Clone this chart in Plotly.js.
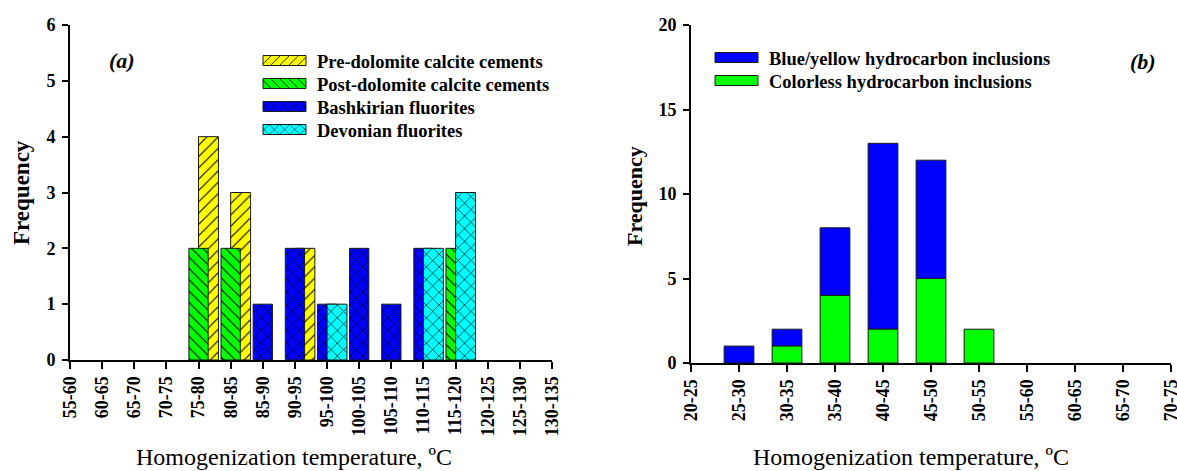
<!DOCTYPE html>
<html>
<head>
<meta charset="utf-8">
<script src="https://cdn.plot.ly/plotly-3.0.1.min.js"></script>
<style>
  html, body { margin: 0; padding: 0; background: #fff; }
  #chart { width: 1177px; height: 471px; }
</style>
</head>
<body>
<div id="chart"></div>
<script>
// ---------- Data ----------
const categoriesA = ['55-60','60-65','65-70','70-75','75-80','80-85','85-90','90-95','95-100','100-105','105-110','110-115','115-120','120-125','125-130','130-135'];
const preDolomiteCalcite  = [0,0,0,0,4,3,0,2,0,0,0,0,0,0,0,0];
const postDolomiteCalcite = [0,0,0,0,2,2,0,0,0,0,0,0,2,0,0,0];
const bashkirianFluorites = [0,0,0,0,0,0,1,2,1,2,1,2,0,0,0,0];
const devonianFluorites   = [0,0,0,0,0,0,0,0,1,0,0,2,3,0,0,0];

const categoriesB = ['20-25','25-30','30-35','35-40','40-45','45-50','50-55','55-60','60-65','65-70','70-75'];
const blueYellowHC = [0,1,1,4,11,7,0,0,0,0,0];
const colorlessHC  = [0,0,1,4,2,5,2,0,0,0,0];

const seriesNamesA = ['Pre-dolomite calcite cements','Post-dolomite calcite cements','Bashkirian fluorites','Devonian fluorites'];
const seriesNamesB = ['Blue/yellow hydrocarbon inclusions','Colorless hydrocarbon inclusions'];

// ---------- Layout helpers ----------
const W = 1177, H = 471;
const px = v => v / W;
const py = v => (H - v) / H;
const serif = 'Liberation Serif, Times New Roman, serif';
const nz = arr => arr.map(v => (v === 0 ? null : v));
const bold = arr => arr.map(s => '<b>' + s + '</b>');
const edge = {color: '#1a1a1a', width: 1};

function patt(shape, bg, size, sol) {
  return {shape: shape, bgcolor: bg, fgcolor: '#000', fgopacity: 1, size: size, solidity: sol, fillmode: 'replace'};
}

const traces = [
  {type: 'bar', name: seriesNamesA[0], x: categoriesA, y: nz(preDolomiteCalcite), xaxis: 'x', yaxis: 'y',
   width: 0.62, offset: 0, marker: {color: '#ffff00', line: edge, pattern: patt('/', '#ffff00', 8, 0.14)}, legend: 'legend'},
  {type: 'bar', name: seriesNamesA[1], x: categoriesA, y: nz(postDolomiteCalcite), xaxis: 'x', yaxis: 'y',
   width: 0.6, offset: -0.3, marker: {color: '#00ff00', line: edge, pattern: patt('\\', '#00ff00', 8, 0.14)}, legend: 'legend'},
  {type: 'bar', name: seriesNamesA[2], x: categoriesA, y: nz(bashkirianFluorites), xaxis: 'x', yaxis: 'y',
   width: 0.6, offset: -0.3, marker: {color: '#0000ff', line: edge, pattern: patt('x', '#0000ff', 9, 0.14)}, legend: 'legend'},
  {type: 'bar', name: seriesNamesA[3], x: categoriesA, y: nz(devonianFluorites), xaxis: 'x', yaxis: 'y',
   width: 0.62, offset: 0, marker: {color: '#00ffff', line: edge, pattern: patt('x', '#00ffff', 9, 0.14)}, legend: 'legend'},

  {type: 'bar', name: seriesNamesB[0], x: categoriesB, y: nz(blueYellowHC), base: colorlessHC, xaxis: 'x2', yaxis: 'y2',
   width: 0.62, offset: -0.31, marker: {color: '#0000ff', line: edge}, legend: 'legend2'},
  {type: 'bar', name: seriesNamesB[1], x: categoriesB, y: nz(colorlessHC), xaxis: 'x2', yaxis: 'y2',
   width: 0.62, offset: -0.31, marker: {color: '#00ff00', line: edge}, legend: 'legend2'}
];

const tickFont = () => ({family: serif, size: 18, color: '#000', weight: 'bold'});
const axisCommon = {showline: true, linecolor: '#000', linewidth: 2, ticks: 'outside', tickcolor: '#000',
  tickwidth: 2, showgrid: false, zeroline: false, fixedrange: true};

const legendFont = {family: serif, size: 18.5, color: '#000', weight: 'bold'};

const layout = {
  width: W, height: H,
  margin: {l: 0, r: 0, t: 0, b: 0},
  paper_bgcolor: '#fff', plot_bgcolor: 'rgba(0,0,0,0)',
  barmode: 'overlay',
  font: {family: serif, color: '#000'},
  xaxis: Object.assign({}, axisCommon, {domain: [px(70), px(552)], anchor: 'y', type: 'category',
    categoryorder: 'array', categoryarray: categoriesA, range: [0, 15], tickangle: -90, ticklen: 7,
    tickfont: tickFont(), tickmode: 'array', tickvals: categoriesA, ticktext: bold(categoriesA)}),
  yaxis: Object.assign({}, axisCommon, {domain: [py(360), py(25)], anchor: 'x', range: [0, 6], dtick: 1, ticklen: 6,
    tickfont: tickFont(), ticklabelstandoff: 3}),
  xaxis2: Object.assign({}, axisCommon, {domain: [px(691), px(1171)], anchor: 'y2', type: 'category',
    categoryorder: 'array', categoryarray: categoriesB, range: [0, 10], tickangle: -90, ticklen: 7,
    tickfont: tickFont(), tickmode: 'array', tickvals: categoriesB, ticktext: bold(categoriesB)}),
  yaxis2: Object.assign({}, axisCommon, {domain: [py(363), py(25)], anchor: 'x2', range: [0, 20], dtick: 5, ticklen: 6,
    tickfont: tickFont(), ticklabelstandoff: 3}),
  showlegend: true,
  legend: {x: px(252), y: py(42), xanchor: 'left', yanchor: 'top', bgcolor: 'rgba(0,0,0,0)', borderwidth: 0,
    font: legendFont, itemwidth: 55, traceorder: 'normal', itemclick: false},
  legend2: {x: px(704), y: py(39), xanchor: 'left', yanchor: 'top', bgcolor: 'rgba(0,0,0,0)', borderwidth: 0,
    font: legendFont, itemwidth: 55, traceorder: 'normal', itemclick: false},
  annotations: [
    {text: '<b>Frequency</b>', xref: 'paper', yref: 'paper', x: px(21), y: py(193), textangle: -90, showarrow: false,
     font: {family: serif, size: 23, color: '#000'}, xanchor: 'center', yanchor: 'middle'},
    {text: '<b>Frequency</b>', xref: 'paper', yref: 'paper', x: px(634), y: py(196), textangle: -90, showarrow: false,
     font: {family: serif, size: 22, color: '#000'}, xanchor: 'center', yanchor: 'middle'},
    {text: 'Homogenization temperature, ºC', xref: 'paper', yref: 'paper', x: px(294), y: py(457), showarrow: false,
     font: {family: serif, size: 24, color: '#000'}, xanchor: 'center', yanchor: 'middle'},
    {text: 'Homogenization temperature, ºC', xref: 'paper', yref: 'paper', x: px(911), y: py(457), showarrow: false,
     font: {family: serif, size: 24, color: '#000'}, xanchor: 'center', yanchor: 'middle'},
    {text: '<b><i>(a)</i></b>', xref: 'paper', yref: 'paper', x: px(122), y: py(61), showarrow: false,
     font: {family: serif, size: 22, color: '#000'}, xanchor: 'center', yanchor: 'middle'},
    {text: '<b><i>(b)</i></b>', xref: 'paper', yref: 'paper', x: px(1143), y: py(62), showarrow: false,
     font: {family: serif, size: 22, color: '#000'}, xanchor: 'center', yanchor: 'middle'}
  ]
};

function tweakLegends(gd) {
  // flat, wide legend swatches and a tighter row pitch, as in the original figure
  gd.querySelectorAll('g.legendpoints path').forEach(function (p) {
    p.setAttribute('d', 'M21.5,5H-21.5V-5H21.5Z');
  });
  ['legend', 'legend2'].forEach(function (cls) {
    const lg = gd.querySelector('g.' + cls);
    if (!lg) return;
    let y0 = null;
    lg.querySelectorAll('g.traces').forEach(function (g, i) {
      const m = (g.getAttribute('transform') || '').match(/translate\(\s*([-\d.e]+)[ ,]+([-\d.e]+)\s*\)/);
      if (!m) return;
      if (y0 === null) y0 = parseFloat(m[2]);
      g.setAttribute('transform', 'translate(' + m[1] + ',' + (y0 + i * 23) + ')');
    });
  });
}

Plotly.newPlot('chart', traces, layout, {staticPlot: true, displayModeBar: false}).then(function (gd) {
  tweakLegends(gd);
  setTimeout(function () { tweakLegends(gd); }, 50);
});
</script>
</body>
</html>
